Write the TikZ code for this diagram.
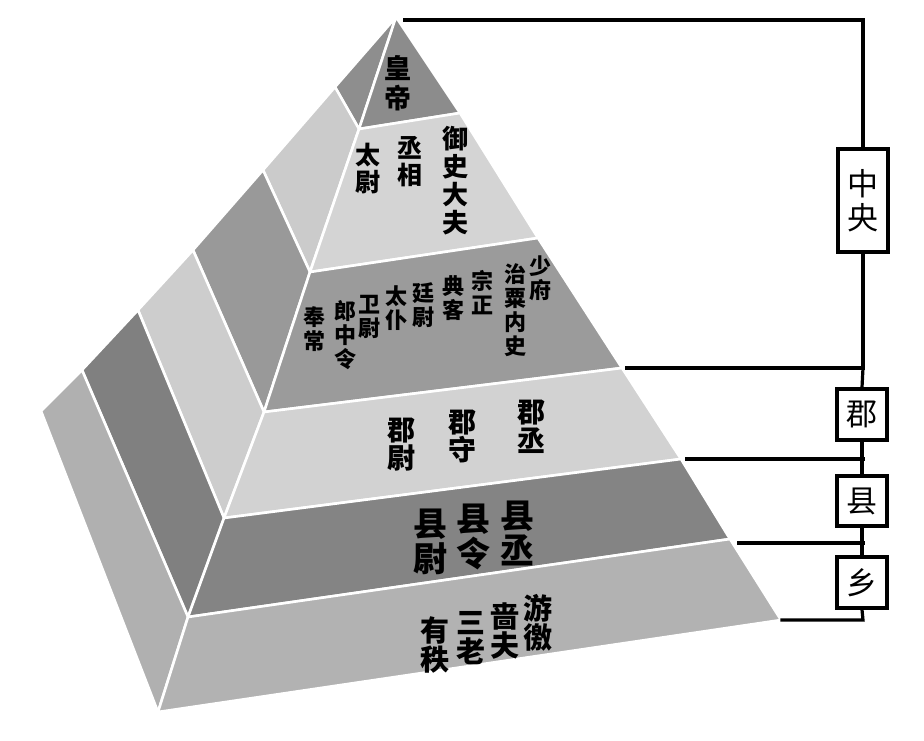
\documentclass[tikz,border=0pt]{standalone}
\usepackage{fontspec}
\newfontfamily\cjk{Noto Sans CJK SC}
\usetikzlibrary{calc}
\tikzset{
  face/.style={draw=white, line width=2.6pt, line join=round},
  col/.style 2 args={align=center, inner sep=0pt, font=\cjk\bfseries\fontsize{#1}{#2}\selectfont},
  conn/.style={draw=black, line width=3.2pt, line join=miter, line cap=rect},
  lvl/.style={draw=black, line width=3.4pt, fill=white, inner sep=0pt, minimum width=50pt, align=center, font=\cjk\fontsize{31}{34}\selectfont}
}
\definecolor{cA}{HTML}{8C8C8C}\definecolor{cAl}{HTML}{8E8E8E}
\definecolor{cB}{HTML}{D4D4D4}\definecolor{cBl}{HTML}{CBCBCB}
\definecolor{cC}{HTML}{9B9B9B}\definecolor{cCl}{HTML}{999999}
\definecolor{cD}{HTML}{D2D2D2}\definecolor{cDl}{HTML}{CDCDCD}
\definecolor{cE}{HTML}{848484}\definecolor{cEl}{HTML}{808080}
\definecolor{cF}{HTML}{B2B2B2}\definecolor{cFl}{HTML}{B0B0B0}
\begin{document}
\begin{tikzpicture}[x=1pt,y=-1pt]
\useasboundingbox (0,0) rectangle (924,740);
% pyramid corners
\coordinate (A) at (396,17);
\coordinate (P1) at (359,129);\coordinate (P2) at (310,272);\coordinate (P3) at (264,412);
\coordinate (P4) at (224,518);\coordinate (P5) at (188,617);\coordinate (P6) at (158,712);
\coordinate (R1) at (460,113);\coordinate (R2) at (538,238);\coordinate (R3) at (622,368);
\coordinate (R4) at (681,459);\coordinate (R5) at (730,539);\coordinate (R6) at (781,620);
\coordinate (L1) at (335,87);\coordinate (L2) at (263,170);\coordinate (L3) at (193,250);
\coordinate (L4) at (138,310);\coordinate (L5) at (82,370);\coordinate (L6) at (41,411);
% left faces
\path[face,fill=cAl] (A) -- (P1) -- (L1) -- cycle;
\path[face,fill=cBl] (L1) -- (P1) -- (P2) -- (L2) -- cycle;
\path[face,fill=cCl] (L2) -- (P2) -- (P3) -- (L3) -- cycle;
\path[face,fill=cDl] (L3) -- (P3) -- (P4) -- (L4) -- cycle;
\path[face,fill=cEl] (L4) -- (P4) -- (P5) -- (L5) -- cycle;
\path[face,fill=cFl] (L5) -- (P5) -- (P6) -- (L6) -- cycle;
% front faces
\path[face,fill=cA] (A) -- (R1) -- (P1) -- cycle;
\path[face,fill=cB] (P1) -- (R1) -- (R2) -- (P2) -- cycle;
\path[face,fill=cC] (P2) -- (R2) -- (R3) -- (P3) -- cycle;
\path[face,fill=cD] (P3) -- (R3) -- (R4) -- (P4) -- cycle;
\path[face,fill=cE] (P4) -- (R4) -- (R5) -- (P5) -- cycle;
\path[face,fill=cF] (P5) -- (R5) -- (R6) -- (P6) -- cycle;
% texts
\node[col={27}{30}] (huangdi) at (398,83) {皇\\帝};
\node[col={25}{27}] (taiwei) at (368,169) {太\\尉};
\node[col={25}{27}] (chengxiang) at (410,162) {丞\\相};
\node[col={26}{28}] (yushi) at (455,181) {御\\史\\大\\夫};
\node[col={22}{24}] (fengchang) at (314,329) {奉\\常};
\node[col={22}{24}] (langzhong) at (345,335) {郎\\中\\令};
\node[col={22}{24}] (weiwei) at (369,317) {卫\\尉};
\node[col={22}{24}] (taipu) at (396,308) {太\\仆};
\node[col={22}{24}] (tingwei) at (423,305) {廷\\尉};
\node[col={22}{24}] (dianke) at (453,298) {典\\客};
\node[col={22}{24}] (zongzheng) at (482,293) {宗\\正};
\node[col={22}{24}] (zhisu) at (515,310) {治\\粟\\内\\史};
\node[col={22}{24}] (shaofu) at (540,278) {少\\府};
\node[col={28}{28}] (junwei) at (401,445) {郡\\尉};
\node[col={28}{28}] (junshou) at (462,436) {郡\\守};
\node[col={28}{29}] (juncheng) at (531,427) {郡\\丞};
\node[col={34}{35}] (xianwei) at (430,542) {县\\尉};
\node[col={34}{35}] (xianling) at (473,537) {县\\令};
\node[col={34}{35}] (xiancheng) at (517,533) {县\\丞};
\node[col={29}{29}] (youzhi) at (435,645) {有\\秩};
\node[col={29}{29}] (sanlao) at (471,638) {三\\老};
\node[col={29}{29}] (sefu) at (505,631) {啬\\夫};
\node[col={29}{29}] (youjiao) at (538,623) {游\\徼};
% level boxes
\node[lvl, minimum height=103pt] (zy) at (863,200.5) {中\\央};
\node[lvl, minimum height=51pt] (jun) at (862,414.5) {郡};
\node[lvl, minimum height=50pt] (xian) at (862,501) {县};
\node[lvl, minimum height=51pt] (xiang) at (862,582.5) {乡};
% connectors
\coordinate (H0) at (405,20);\coordinate (V0) at (863,20);
\coordinate (H3) at (627,368);\coordinate (V3) at (863,368);
\coordinate (H4) at (687,459);\coordinate (V4) at (863,459);
\coordinate (H5) at (739,543);\coordinate (V5) at (863,543);
\coordinate (H6) at (782,620);\coordinate (V6) at (863,620);
\draw[conn] (H0) -- (V0) -- (zy.north);
\draw[conn] (zy.south) -- (V3) -- (H3);
\draw[conn] (V3) -- (jun.north);
\draw[conn] (jun.south) -- (xian.north);
\draw[conn] (V4) -- (H4);
\draw[conn] (xian.south) -- (xiang.north);
\draw[conn] (V5) -- (H5);
\draw[conn] (xiang.south) -- (V6) -- (H6);
\end{tikzpicture}
\end{document}
